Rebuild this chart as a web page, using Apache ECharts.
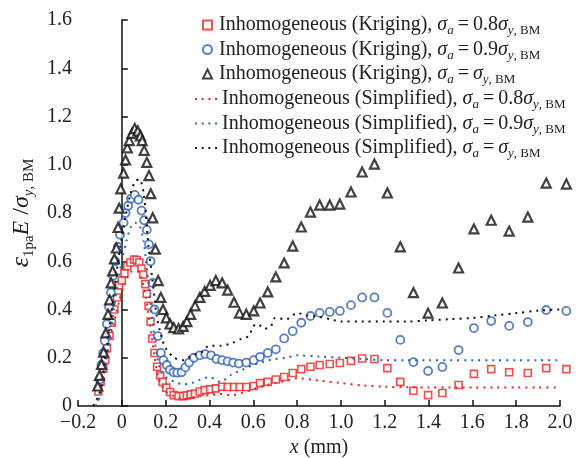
<!DOCTYPE html>
<html>
<head>
<meta charset="UTF-8">
<title>Inhomogeneous strain</title>
<script src="https://cdn.jsdelivr.net/npm/echarts@6/dist/echarts.min.js"></script>
<style>
  html, body { margin: 0; padding: 0; background: #fff; }
  #main { width: 584px; height: 458px; }
</style>
</head>
<body>
<div id="main"></div>
<script>
// Kriging results (markers)
var krig08X = [-0.107,-0.097,-0.085,-0.076,-0.068,-0.056,-0.046,-0.034,-0.022,-0.012,0,0.012,0.025,0.039,0.056,0.068,0.080,0.090,0.098,0.107,0.114,0.122,0.131,0.139,0.149,0.161,0.175,0.186,0.203,0.220,0.237,0.259,0.280,0.297,0.314,0.334,0.356,0.378,0.403,0.429,0.458,0.483,0.512,0.537,0.568,0.602,0.631,0.666,0.703,0.741,0.780,0.819,0.861,0.903,0.949,0.995,1.046,1.097,1.153,1.212,1.271,1.331,1.398,1.463,1.537,1.607,1.686,1.768,1.853,1.937,2.029];
var krig08Y = [0.06,0.10,0.155,0.19,0.24,0.29,0.345,0.40,0.45,0.50,0.52,0.55,0.58,0.595,0.607,0.605,0.595,0.57,0.545,0.505,0.465,0.415,0.35,0.28,0.22,0.163,0.127,0.10,0.076,0.058,0.045,0.041,0.041,0.044,0.048,0.052,0.06,0.066,0.069,0.073,0.08,0.079,0.079,0.079,0.079,0.083,0.095,0.10,0.11,0.12,0.137,0.153,0.163,0.17,0.174,0.178,0.187,0.197,0.195,0.157,0.10,0.063,0.045,0.054,0.087,0.133,0.153,0.14,0.137,0.157,0.153];

var krig09X = [-0.100,-0.093,-0.085,-0.078,-0.068,-0.058,-0.050,-0.040,-0.030,-0.018,-0.008,0.008,0.017,0.029,0.042,0.059,0.076,0.090,0.102,0.114,0.124,0.131,0.141,0.149,0.164,0.178,0.190,0.205,0.219,0.236,0.253,0.273,0.290,0.307,0.329,0.356,0.381,0.407,0.432,0.458,0.483,0.508,0.534,0.568,0.602,0.631,0.666,0.703,0.741,0.780,0.819,0.861,0.903,0.949,0.995,1.046,1.097,1.153,1.212,1.271,1.331,1.398,1.463,1.537,1.607,1.686,1.768,1.853,1.937,2.029];
var krig09Y = [0.11,0.17,0.22,0.27,0.34,0.41,0.47,0.54,0.60,0.66,0.71,0.76,0.80,0.83,0.86,0.875,0.855,0.81,0.77,0.73,0.67,0.60,0.51,0.40,0.29,0.22,0.19,0.17,0.15,0.14,0.138,0.14,0.16,0.18,0.20,0.21,0.215,0.21,0.195,0.19,0.185,0.18,0.176,0.18,0.19,0.204,0.22,0.235,0.28,0.31,0.345,0.373,0.386,0.39,0.394,0.418,0.45,0.45,0.386,0.274,0.182,0.145,0.162,0.232,0.323,0.352,0.332,0.348,0.398,0.394];

var krig10X = [-0.110,-0.102,-0.093,-0.083,-0.073,-0.063,-0.056,-0.049,-0.042,-0.034,-0.025,-0.017,-0.012,-0.005,0.008,0.017,0.025,0.034,0.046,0.059,0.073,0.085,0.093,0.102,0.114,0.124,0.132,0.141,0.153,0.166,0.178,0.188,0.203,0.220,0.237,0.259,0.280,0.297,0.314,0.334,0.356,0.378,0.403,0.429,0.458,0.483,0.512,0.537,0.568,0.602,0.631,0.666,0.703,0.741,0.780,0.819,0.861,0.903,0.949,0.995,1.046,1.097,1.153,1.212,1.271,1.331,1.398,1.463,1.537,1.607,1.686,1.768,1.853,1.937,2.029];
var krig10Y = [0.083,0.127,0.172,0.223,0.303,0.38,0.44,0.51,0.56,0.61,0.655,0.74,0.82,0.90,0.965,1.02,1.07,1.10,1.13,1.15,1.14,1.12,1.10,1.06,1.01,0.955,0.88,0.78,0.65,0.52,0.45,0.40,0.365,0.34,0.325,0.32,0.33,0.35,0.38,0.415,0.45,0.475,0.50,0.52,0.51,0.48,0.43,0.385,0.38,0.394,0.427,0.473,0.535,0.593,0.663,0.742,0.804,0.833,0.833,0.837,0.887,0.97,1.003,0.883,0.66,0.47,0.385,0.427,0.572,0.734,0.77,0.725,0.783,0.924,0.92];

// Simplified model (dotted lines)
var simp08X = [-0.13,-0.11,-0.09,-0.07,-0.05,-0.03,-0.01,0.01,0.03,0.05,0.07,0.09,0.11,0.13,0.15,0.17,0.20,0.24,0.28,0.32,0.36,0.40,0.45,0.50,0.55,0.60,0.65,0.70,0.75,0.80,0.90,1.00,1.10,1.20,1.30,1.40,1.50,1.60,1.70,1.80,1.90,2.00];
var simp08Y = [0,0.02,0.10,0.20,0.29,0.37,0.44,0.50,0.54,0.56,0.56,0.53,0.45,0.33,0.20,0.11,0.06,0.04,0.03,0.032,0.04,0.045,0.05,0.045,0.055,0.07,0.085,0.095,0.105,0.115,0.105,0.095,0.085,0.08,0.078,0.077,0.077,0.077,0.077,0.077,0.077,0.077];

var simp09X = [-0.12,-0.10,-0.08,-0.06,-0.04,-0.02,0,0.02,0.04,0.06,0.08,0.10,0.12,0.14,0.16,0.18,0.20,0.24,0.28,0.32,0.36,0.40,0.45,0.50,0.55,0.60,0.65,0.70,0.75,0.80,0.90,1.00,1.10,1.20,1.30,1.40,1.50,1.60,1.70,1.80,1.90,2.00];
var simp09Y = [0,0.04,0.13,0.25,0.38,0.50,0.60,0.68,0.74,0.76,0.75,0.68,0.52,0.35,0.21,0.14,0.12,0.10,0.09,0.095,0.11,0.12,0.10,0.13,0.15,0.17,0.185,0.195,0.20,0.21,0.205,0.20,0.195,0.19,0.19,0.19,0.19,0.19,0.19,0.19,0.19,0.19];

var simp10X = [-0.13,-0.10,-0.08,-0.06,-0.04,-0.02,0,0.02,0.04,0.06,0.08,0.10,0.12,0.14,0.16,0.18,0.20,0.24,0.28,0.32,0.36,0.40,0.45,0.50,0.55,0.58,0.60,0.62,0.65,0.68,0.70,0.75,0.80,0.85,0.90,0.95,1.00,1.10,1.20,1.30,1.40,1.50,1.60,1.70,1.80,1.90,2.00];
var simp10Y = [0,0.06,0.17,0.30,0.44,0.58,0.70,0.80,0.88,0.93,0.94,0.88,0.68,0.52,0.37,0.29,0.24,0.20,0.19,0.21,0.22,0.25,0.25,0.26,0.28,0.29,0.33,0.34,0.32,0.33,0.365,0.36,0.385,0.375,0.37,0.36,0.35,0.35,0.35,0.35,0.355,0.36,0.365,0.375,0.385,0.395,0.40];

var xTicks = [-0.2, 0, 0.2, 0.4, 0.6, 0.8, 1.0, 1.2, 1.4, 1.6, 1.8, 2.0];
var yTicks = [0, 0.2, 0.4, 0.6, 0.8, 1.0, 1.2, 1.4, 1.6];

var seriesNames = [
  'Inhomogeneous (Kriging), 0.8',
  'Inhomogeneous (Kriging), 0.9',
  'Inhomogeneous (Kriging), 1',
  'Inhomogeneous (Simplified), 0.8',
  'Inhomogeneous (Simplified), 0.9',
  'Inhomogeneous (Simplified), 1'
];

var RED = '#ea2424', BLUE = '#2f5fb3', BLACK = '#111';
var FONT = '"Liberation Serif", "DejaVu Serif", serif';
var DOTS = 'path://M0,0h2v2h-2Z M7,0h2v2h-2Z M14,0h2v2h-2Z M21,0h2v2h-2Z';

function zip(xs, ys) {
  var out = [];
  for (var i = 0; i < xs.length; i++) out.push([xs[i], ys[i]]);
  return out;
}

var rich = {
  p: { width: 2 },
  n: { fontFamily: FONT, fontSize: 20, color: '#222', lineHeight: 22 },
  i: { fontFamily: FONT, fontSize: 20, color: '#222', fontStyle: 'italic', lineHeight: 22 },
  si: { fontFamily: FONT, fontSize: 13, color: '#222', fontStyle: 'italic', padding: [12, 0, 0, 0] },
  s: { fontFamily: FONT, fontSize: 13, color: '#222', padding: [12, 0, 0, 0] }
};

function legendText(name, pad) {
  var parts = name.split(', ');
  var coef = parts[1] === '1' ? '' : parts[1];
  return (pad ? '{p|}' : '') + '{n|' + parts[0] + ', }{i|σ}{si|a}{n|\u2009=\u2009' + coef + '}{i|σ}{si|y}{s|, BM}';
}

var chart = echarts.init(document.getElementById('main'));

var option = {
  backgroundColor: '#fff',
  animation: false,
  grid: { left: 78, right: 24, top: 20, bottom: 52, outerBoundsMode: 'none' },
  legend: [
    {
      data: seriesNames.slice(0, 3),
      orient: 'vertical',
      left: 197,
      top: 10,
      itemGap: 2,
      itemWidth: 9,
      itemHeight: 9,
      formatter: function (name) { return legendText(name, true); },
      textStyle: { fontFamily: FONT, fontSize: 20, color: '#222', rich: rich }
    },
    {
      data: seriesNames.slice(3).map(function (n, k) {
        return { name: n, icon: DOTS, itemStyle: { color: [RED, BLUE, BLACK][k] } };
      }),
      orient: 'vertical',
      left: 190,
      top: 84,
      itemGap: 2,
      itemWidth: 22,
      itemHeight: 2,
      formatter: function (name) { return legendText(name, false); },
      textStyle: { fontFamily: FONT, fontSize: 20, color: '#222', rich: rich }
    }
  ],
  xAxis: {
    type: 'value',
    min: -0.2,
    max: 2.0,
    interval: 0.2,
    name: '{i|x}{n| (mm)}',
    nameLocation: 'middle',
    nameGap: 30,
    nameTextStyle: { rich: rich },
    axisLine: { lineStyle: { color: '#111', width: 1.5 } },
    axisTick: { inside: true, length: 6, lineStyle: { color: '#111', width: 1.5 } },
    axisLabel: {
      margin: 7,
      fontFamily: FONT, fontSize: 20, color: '#222',
      formatter: function (v) {
        var t = Math.round(v * 10) / 10;
        if (xTicks.indexOf(t) < 0) return '';
        return t === 0 ? '0' : t.toFixed(1).replace('-', '\u2212');
      }
    },
    splitLine: { show: false }
  },
  yAxis: {
    type: 'value',
    min: 0,
    max: 1.6,
    interval: 0.2,
    name: '{e|ε}{s|1pa}{i|E}{n| /}{i|σ}{si|y}{s|, BM}',
    nameLocation: 'middle',
    nameGap: 36,
    nameTextStyle: {
      rich: {
        e: { fontFamily: FONT, fontSize: 26, color: '#222', fontStyle: 'italic', lineHeight: 26 },
        n: { fontFamily: FONT, fontSize: 24, color: '#222', lineHeight: 26 },
        i: { fontFamily: FONT, fontSize: 24, color: '#222', fontStyle: 'italic', lineHeight: 26 },
        si: { fontFamily: FONT, fontSize: 15, color: '#222', fontStyle: 'italic', padding: [14, 0, 0, 0] },
        s: { fontFamily: FONT, fontSize: 15, color: '#222', padding: [14, 0, 0, 0] }
      }
    },
    axisLine: { lineStyle: { color: '#111', width: 1.5 } },
    axisTick: { inside: true, length: 6, lineStyle: { color: '#111', width: 1.5 } },
    axisLabel: {
      margin: 6,
      fontFamily: FONT, fontSize: 20, color: '#222',
      formatter: function (v) {
        var t = Math.round(v * 10) / 10;
        if (yTicks.indexOf(t) < 0) return '';
        return t === 0 ? '0' : t.toFixed(1);
      }
    },
    splitLine: { show: false }
  },
  series: [
    {
      name: seriesNames[3], type: 'line', data: zip(simp08X, simp08Y),
      showSymbol: false, symbol: 'none', smooth: 0.3, clip: false,
      lineStyle: { color: RED, width: 2, type: [2, 5] }, itemStyle: { color: RED }
    },
    {
      name: seriesNames[4], type: 'line', data: zip(simp09X, simp09Y),
      showSymbol: false, symbol: 'none', smooth: 0.3, clip: false,
      lineStyle: { color: BLUE, width: 2, type: [2, 5] }, itemStyle: { color: BLUE }
    },
    {
      name: seriesNames[5], type: 'line', data: zip(simp10X, simp10Y),
      showSymbol: false, symbol: 'none', smooth: 0.3, clip: false,
      lineStyle: { color: BLACK, width: 2, type: [2, 5] }, itemStyle: { color: BLACK }
    },
    {
      name: seriesNames[0], type: 'scatter', data: zip(krig08X, krig08Y),
      symbol: 'rect', symbolSize: 7, clip: false,
      itemStyle: { color: '#fff', borderColor: RED, borderWidth: 1.6 }
    },
    {
      name: seriesNames[1], type: 'scatter', data: zip(krig09X, krig09Y),
      symbol: 'circle', symbolSize: 8, clip: false,
      itemStyle: { color: '#fff', borderColor: BLUE, borderWidth: 1.8 }
    },
    {
      name: seriesNames[2], type: 'scatter', data: zip(krig10X, krig10Y),
      symbol: 'triangle', symbolSize: 9, clip: false,
      itemStyle: { color: '#fff', borderColor: BLACK, borderWidth: 2.2 }
    }
  ]
};

chart.setOption(option);
</script>
</body>
</html>
